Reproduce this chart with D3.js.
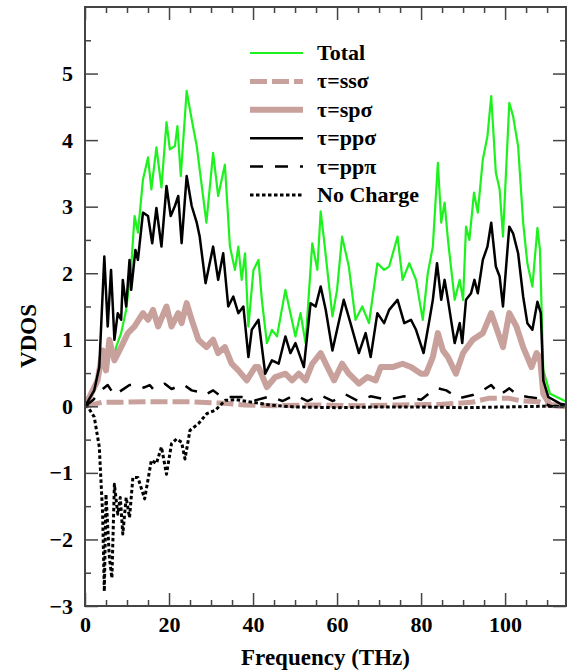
<!DOCTYPE html>
<html>
<head>
<meta charset="utf-8">
<script src="https://cdn.jsdelivr.net/npm/d3@7"></script>
<style>
  body { margin: 0; background: #fff; }
  text { font-family: 'Liberation Serif', 'Times New Roman', serif; font-weight: bold; }
</style>
</head>
<body>
<svg id="chart" width="567" height="670"></svg>
<script>
// [frequency THz, VDOS]
const total = [[0,0],[3.0,0.39],[4.2,0.84],[5.0,0.54],[5.8,1.0],[7.0,0.69],[7.4,0.89],[8.6,1.10],[9.8,1.45],[11.0,2.10],[11.8,2.86],[12.6,2.61],[13.8,3.41],[15.0,3.74],[15.8,3.26],[17.0,3.89],[18.2,3.29],[19.4,4.27],[20.2,3.86],[21.4,3.91],[22.0,4.21],[22.8,3.46],[24.2,4.74],[25.4,4.31],[26.6,3.91],[27.3,3.56],[28.9,2.76],[30.5,3.81],[31.7,3.16],[33.3,3.63],[34.5,2.40],[35.7,2.05],[36.5,2.40],[37.3,1.90],[38.1,2.30],[38.9,1.20],[40.1,2.05],[41.3,2.20],[42.1,1.60],[43.3,0.95],[44.5,1.15],[45.7,1.05],[47.7,1.75],[48.9,1.40],[50.1,1.05],[51.3,1.40],[52.5,0.95],[54.1,2.45],[55.3,2.05],[56.1,2.93],[56.9,2.50],[58.9,1.35],[60.0,1.75],[61.2,2.55],[62.8,2.10],[64.4,1.30],[66.0,1.50],[67.6,1.25],[69.6,2.15],[71.2,2.05],[72.4,2.10],[74.4,2.55],[75.6,1.90],[77.2,2.15],[78.8,1.90],[80.4,1.30],[81.6,2.0],[82.8,2.40],[84.0,3.66],[84.8,2.76],[85.6,3.06],[86.4,2.50],[88.0,1.60],[89.2,1.90],[90.0,1.60],[90.7,2.70],[91.5,2.50],[92.6,3.21],[93.5,2.91],[94.7,3.71],[95.8,4.06],[96.7,4.66],[97.8,3.51],[98.7,3.26],[99.5,2.55],[101.0,4.56],[101.9,4.36],[103.1,3.91],[104.3,2.76],[105.3,2.15],[106.5,1.80],[107.7,2.68],[108.3,2.35],[109.1,0.54],[110.7,0.19],[113.9,0.09],[115,0.06]]

const ssSigma = [[0,0],[2,0.03],[4,0.06],[8,0.06],[15,0.07],[25,0.07],[32,0.05],[38,0.02],[45,0.01],[55,0.02],[65,0.01],[75,0.02],[85,0.03],[92,0.06],[96,0.12],[101,0.12],[104,0.08],[108,0.07],[110,0.02],[115,0]]

const spSigma = [[0,0],[3.0,0.39],[4.2,0.84],[5.0,0.54],[5.8,1.0],[7.0,0.69],[8.6,0.89],[10.2,1.10],[11.8,1.20],[13.8,1.40],[15.0,1.30],[16.2,1.45],[17.4,1.20],[19.4,1.50],[20.6,1.20],[22.2,1.40],[23.0,1.25],[24.2,1.55],[25.4,1.30],[27.0,1.0],[28.9,0.89],[30.5,1.0],[31.7,0.80],[33.3,0.89],[34.9,0.64],[36.5,0.54],[38.5,0.39],[40.5,0.59],[41.3,0.59],[43.3,0.29],[45.3,0.44],[47.7,0.49],[49.3,0.39],[50.9,0.49],[52.5,0.39],[54.1,0.64],[56.1,0.80],[57.7,0.59],[59.3,0.39],[61.2,0.64],[62.8,0.49],[65.2,0.34],[67.2,0.44],[69.2,0.39],[70.4,0.59],[73.2,0.59],[75.6,0.64],[77.6,0.59],[80.0,0.49],[81.2,0.49],[82.8,0.74],[84.0,1.10],[85.2,0.84],[86.4,0.74],[88.3,0.49],[90.0,0.80],[92.3,1.0],[94.7,1.10],[96.7,1.40],[99.5,0.89],[101.0,1.40],[102.7,1.20],[104.3,0.89],[106.3,0.59],[107.5,0.80],[108.3,0.74],[109.1,0.19],[110.7,0.02],[115,0]]

const ppSigma = [[0,0],[2.2,0.24],[3.4,0.59],[4.6,2.25],[5.4,1.20],[6.2,2.05],[7.0,1.00],[7.8,1.40],[8.6,1.30],[9.0,1.90],[9.8,1.50],[10.6,2.20],[11.0,1.75],[12.0,2.35],[12.6,2.20],[13.8,2.91],[15.0,2.86],[16.0,2.45],[17.0,2.98],[18.2,2.40],[19.4,3.31],[20.4,2.86],[21.4,3.01],[22.2,3.16],[23.0,2.45],[24.2,3.46],[25.4,3.01],[26.6,2.76],[27.3,2.55],[28.7,1.85],[30.5,2.40],[31.7,1.90],[32.9,2.30],[34.1,1.50],[35.3,1.65],[36.5,1.40],[37.7,1.50],[38.9,0.74],[39.7,1.15],[41.3,1.30],[42.9,0.49],[44.5,0.69],[46.1,0.64],[47.7,1.05],[48.9,0.80],[50.1,0.95],[52.1,0.59],[53.7,1.55],[54.9,1.50],[56.1,1.80],[57.3,1.45],[58.9,0.84],[60.0,1.15],[61.6,1.60],[63.2,1.25],[65.2,0.80],[66.8,1.10],[68.0,0.74],[69.6,1.40],[71.2,1.25],[72.4,1.45],[74.4,1.60],[76.0,1.25],[77.6,1.30],[78.8,1.15],[80.6,0.80],[82.0,1.30],[82.8,1.60],[83.8,2.15],[84.8,1.60],[85.6,1.90],[86.4,1.60],[88.0,0.95],[89.2,1.25],[89.8,0.95],[90.7,1.60],[91.9,1.70],[92.7,1.90],[93.5,1.70],[94.7,2.20],[95.8,2.40],[96.7,2.76],[97.8,2.10],[98.7,1.95],[99.5,1.50],[101.0,2.70],[101.9,2.60],[103.1,2.30],[104.3,1.65],[105.3,1.25],[106.5,1.15],[107.7,1.57],[108.5,1.40],[109.1,0.39],[110.3,0.14],[113.1,0.04],[115,0.02]]

const ppPi = [[0,0],[2,0.1],[3.8,0.24],[5.4,0.32],[7,0.17],[9.4,0.27],[10.6,0.32],[12.2,0.33],[14,0.28],[15.4,0.32],[16.2,0.26],[19,0.34],[20.6,0.26],[23.4,0.33],[25.4,0.24],[27,0.22],[28.5,0.17],[30.5,0.24],[32.5,0.14],[37.3,0.14],[40.5,0.09],[44,0.15],[47,0.08],[50,0.17],[53,0.08],[56,0.17],[59,0.08],[62,0.18],[65,0.08],[68,0.15],[72,0.1],[76,0.15],[80,0.1],[82,0.2],[84,0.27],[86,0.24],[89,0.12],[92.3,0.17],[94.7,0.24],[96.7,0.32],[98.7,0.17],[101,0.27],[103,0.17],[105.5,0.14],[108,0.12],[109,0.05],[111,0],[115,0]]

const noCharge = [[0,0],[0.6,0],[2.2,-0.16],[3.4,-0.61],[4.2,-1.62],[4.6,-2.78],[5.0,-1.32],[5.8,-2.27],[6.4,-2.58],[7.0,-1.17],[7.8,-1.62],[8.4,-1.37],[9.0,-1.92],[9.8,-1.37],[10.6,-1.67],[11.4,-1.07],[12.6,-1.07],[14.2,-1.39],[15.8,-0.81],[17.0,-0.86],[18.2,-0.61],[19.4,-1.02],[20.6,-0.56],[21.8,-0.49],[23.0,-0.54],[23.8,-0.79],[25.0,-0.36],[27.0,-0.26],[29.0,-0.11],[31.0,-0.06],[33.4,0.09],[36,0.1],[40,0.06],[44,0.02],[50,-0.01],[60,-0.02],[70,-0.01],[80,-0.01],[90,-0.02],[100,-0.01],[108,0],[115,0]]

const xMajor = [0, 20, 40, 60, 80, 100]
const yMajor = [-3, -2, -1, 0, 1, 2, 3, 4, 5]

const green = '#1ef21e'
const brown = '#c9a19c'

const series = [
  { name: 'Total', data: total, color: green, width: 2.2, dash: null },
  { name: 'τ=spσ', data: spSigma, color: brown, width: 6, dash: null },
  { name: 'τ=ssσ', data: ssSigma, color: brown, width: 5, dash: '17,5' },
  { name: 'τ=ppσ', data: ppSigma, color: '#000', width: 2.5, dash: null },
  { name: 'τ=ppπ', data: ppPi, color: '#000', width: 2.5, dash: '13,12' },
  { name: 'No Charge', data: noCharge, color: '#000', width: 3, dash: '3.5,2.5' }
]
const legendOrder = ['Total', 'τ=ssσ', 'τ=spσ', 'τ=ppσ', 'τ=ppπ', 'No Charge']

const svg = d3.select('#chart')
const plotLeft = 85, plotRight = 566, plotTop = 7, plotBottom = 606

const x = d3.scaleLinear().domain([0, 114.5]).range([plotLeft, plotRight])
const y = d3.scaleLinear().domain([-3, 6]).range([plotBottom, plotTop])

svg.append('defs').append('clipPath').attr('id', 'plot')
  .append('rect').attr('x', plotLeft).attr('y', plotTop)
  .attr('width', plotRight - plotLeft).attr('height', plotBottom - plotTop)

const line = d3.line().x(d => x(d[0])).y(d => y(d[1]))

svg.append('g').attr('clip-path', 'url(#plot)')
  .selectAll('path')
  .data(series)
  .enter().append('path')
    .attr('d', d => line(d.data))
    .attr('fill', 'none')
    .attr('stroke', d => d.color)
    .attr('stroke-width', d => d.width)
    .attr('stroke-dasharray', d => d.dash)
    .attr('stroke-linejoin', 'round')

// axes, ticks inward on all four sides
const xMinor = d3.range(0, 115, 5).filter(v => v % 20 !== 0)
const yMinor = d3.range(-2.5, 6, 1)

function styleAxis (g) {
  g.select('.domain').remove()
  g.selectAll('line').attr('stroke', '#444').attr('stroke-width', 1.5)
  g.selectAll('text').attr('font-size', 22).attr('fill', '#000')
    .style('font-family', "'Liberation Serif', serif").style('font-weight', 'bold')
}

svg.append('g').attr('transform', `translate(0,${plotBottom})`)
  .call(d3.axisBottom(x).tickValues(xMajor).tickSize(-13).tickPadding(10).tickFormat(d3.format('d')))
  .call(styleAxis)
svg.append('g').attr('transform', `translate(0,${plotBottom})`)
  .call(d3.axisBottom(x).tickValues(xMinor).tickSize(-6).tickFormat(''))
  .call(styleAxis)
svg.append('g').attr('transform', `translate(0,${plotTop})`)
  .call(d3.axisTop(x).tickValues(xMajor).tickSize(-13).tickFormat(''))
  .call(styleAxis)
svg.append('g').attr('transform', `translate(0,${plotTop})`)
  .call(d3.axisTop(x).tickValues(xMinor).tickSize(-6).tickFormat(''))
  .call(styleAxis)

svg.append('g').attr('transform', `translate(${plotLeft},0)`)
  .call(d3.axisLeft(y).tickValues(yMajor).tickSize(-13).tickPadding(12))
  .call(styleAxis)
svg.append('g').attr('transform', `translate(${plotLeft},0)`)
  .call(d3.axisLeft(y).tickValues(yMinor).tickSize(-6).tickFormat(''))
  .call(styleAxis)
svg.append('g').attr('transform', `translate(${plotRight},0)`)
  .call(d3.axisRight(y).tickValues(yMajor).tickSize(-13).tickFormat(''))
  .call(styleAxis)
svg.append('g').attr('transform', `translate(${plotRight},0)`)
  .call(d3.axisRight(y).tickValues(yMinor).tickSize(-6).tickFormat(''))
  .call(styleAxis)

svg.append('rect')
  .attr('x', plotLeft).attr('y', plotTop)
  .attr('width', plotRight - plotLeft).attr('height', plotBottom - plotTop)
  .attr('fill', 'none').attr('stroke', '#444').attr('stroke-width', 2)

// axis titles
svg.append('text')
  .attr('x', (plotLeft + plotRight) / 2).attr('y', 665)
  .attr('text-anchor', 'middle').attr('font-size', 23)
  .text('Frequency (THz)')

svg.append('text')
  .attr('transform', 'translate(36,336) rotate(-90)')
  .attr('text-anchor', 'middle').attr('font-size', 23)
  .text('VDOS')

// legend
const legend = svg.append('g').selectAll('g')
  .data(legendOrder.map(n => series.find(s => s.name === n)))
  .enter().append('g')
    .attr('transform', (d, i) => `translate(250,${53 + i * 28.4})`)

legend.append('line')
  .attr('x1', 0).attr('x2', 53)
  .attr('stroke', d => d.color)
  .attr('stroke-width', d => d.width)
  .attr('stroke-dasharray', d => d.dash)

legend.append('text')
  .attr('x', 67).attr('y', 7)
  .attr('font-size', 22)
  .text(d => d.name)
</script>
</body>
</html>
